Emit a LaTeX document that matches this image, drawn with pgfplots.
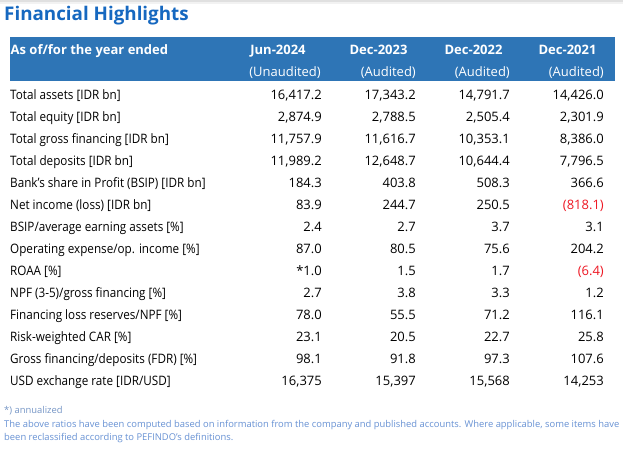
\documentclass[border=0pt]{standalone}
\usepackage{fontspec}
\setmainfont{Open Sans}
\newfontfamily\lblfont{Open Sans}[FakeStretch=0.9]
\usepackage{pgfplots}
\pgfplotsset{compat=1.18}
\definecolor{hdr}{RGB}{46,117,182}
\definecolor{ttl}{RGB}{22,104,192}
\definecolor{neg}{RGB}{238,24,36}
\definecolor{foot}{RGB}{104,146,212}
\definecolor{foota}{RGB}{118,150,198}
\newcommand\bodyf{\fontsize{13}{15}\selectfont}
\newcommand\footf{\fontsize{9.4}{11}\selectfont}
\pgfplotsset{
  txt/.style={draw=none, mark=none, nodes near coords, point meta=explicit symbolic,
    every node near coord/.append style={inner sep=0pt, #1}},
}
\begin{document}
\begin{tikzpicture}
\begin{axis}[hide axis, scale only axis, width=623pt, height=452pt,
  xmin=0, xmax=623, ymin=0, ymax=452, y dir=reverse, clip=false]
% background, top shadow and header band
\addplot[fill=white, draw=none] coordinates {(0,0) (623,0) (623,452) (0,452)} -- cycle;
\addplot[fill=black!12, draw=none] coordinates {(0,0) (623,0) (623,2) (0,2)} -- cycle;
\addplot[fill=black!5, draw=none] coordinates {(0,2) (623,2) (623,4.5) (0,4.5)} -- cycle;
\addplot[fill=hdr, draw=none] coordinates {(10,37) (615,37) (615,81) (10,81)} -- cycle;
% title
\addplot[txt={anchor=base west, font=\fontsize{18.8}{21}\selectfont\bfseries, text=ttl}]
  coordinates {(4,21) [Financial Highlights]};
% header
\addplot[txt={anchor=base west, font=\bodyf\bfseries, text=white}]
  coordinates {(10.5,55) [As of/for the year ended]};
\addplot[txt={anchor=base, font=\bodyf\bfseries, text=white}]
  coordinates {(278,55) [Jun-2024] (378.5,55) [Dec-2023] (473.5,55) [Dec-2022] (567.5,55) [Dec-2021]};
\addplot[txt={anchor=base east, font=\bodyf, text=white}]
  coordinates {(321,76) [(Unaudited)] (416,76) [(Audited)] (510,76) [(Audited)] (604,76) [(Audited)]};
% row labels
\addplot[txt={anchor=base west, font=\lblfont\bodyf, text=black}]
  coordinates {
  (10,99) [{Total assets [IDR bn]}]
  (10,121) [{Total equity [IDR bn]}]
  (10,143) [{Total gross financing [IDR bn]}]
  (10,165) [{Total deposits [IDR bn]}]
  (10,187) [{Bank’s share in Profit (BSIP) [IDR bn]}]
  (10,209) [{Net income (loss) [IDR bn]}]
  (10,231) [{BSIP/average earning assets [\%]}]
  (10,253) [{Operating expense/op. income [\%]}]
  (10,275) [{ROAA [\%]}]
  (10,297) [{NPF (3-5)/gross financing [\%]}]
  (10,319) [{Financing loss reserves/NPF [\%]}]
  (10,341) [{Risk-weighted CAR [\%]}]
  (10,363) [{Gross financing/deposits (FDR) [\%]}]
  (10,385) [{USD exchange rate [IDR/USD]}]
  };
% Jun-2024
\addplot[txt={anchor=base east, font=\bodyf, text=black}]
  coordinates {
  (322,99) [16,417.2] (322,121) [2,874.9] (322,143) [11,757.9] (322,165) [11,989.2]
  (322,187) [184.3] (322,209) [83.9] (322,231) [2.4] (322,253) [87.0]
  (322,275) [*1.0] (322,297) [2.7] (322,319) [78.0] (322,341) [23.1]
  (322,363) [98.1] (322,385) [16,375]
  };
% Dec-2023
\addplot[txt={anchor=base east, font=\bodyf, text=black}]
  coordinates {
  (416,99) [17,343.2] (416,121) [2,788.5] (416,143) [11,616.7] (416,165) [12,648.7]
  (416,187) [403.8] (416,209) [244.7] (416,231) [2.7] (416,253) [80.5]
  (416,275) [1.5] (416,297) [3.8] (416,319) [55.5] (416,341) [20.5]
  (416,363) [91.8] (416,385) [15,397]
  };
% Dec-2022
\addplot[txt={anchor=base east, font=\bodyf, text=black}]
  coordinates {
  (510,99) [14,791.7] (510,121) [2,505.4] (510,143) [10,353.1] (510,165) [10,644.4]
  (510,187) [508.3] (510,209) [250.5] (510,231) [3.7] (510,253) [75.6]
  (510,275) [1.7] (510,297) [3.3] (510,319) [71.2] (510,341) [22.7]
  (510,363) [97.3] (510,385) [15,568]
  };
% Dec-2021
\addplot[txt={anchor=base east, font=\bodyf, text=black}]
  coordinates {
  (604,99) [14,426.0] (604,121) [2,301.9] (604,143) [8,386.0] (604,165) [7,796.5]
  (604,187) [366.6] (604,231) [3.1] (604,253) [204.2]
  (604,297) [1.2] (604,319) [116.1] (604,341) [25.8]
  (604,363) [107.6] (604,385) [14,253]
  };
\addplot[txt={anchor=base east, font=\bodyf, text=neg}]
  coordinates {(604,209) [(818.1)] (604,275) [(6.4)]};
% footnotes
\addplot[txt={anchor=base west, font=\footf, text=foota}]
  coordinates {(4,413) [*) annualized]};
\addplot[txt={anchor=base west, font=\footf, text=foot}]
  coordinates {
  (4,427) [{The above ratios have been computed based on information from the company and published accounts. Where applicable, some items have}]
  (4,440) [{been reclassified according to PEFINDO’s definitions.}]
  };
\end{axis}
\end{tikzpicture}
\end{document}
